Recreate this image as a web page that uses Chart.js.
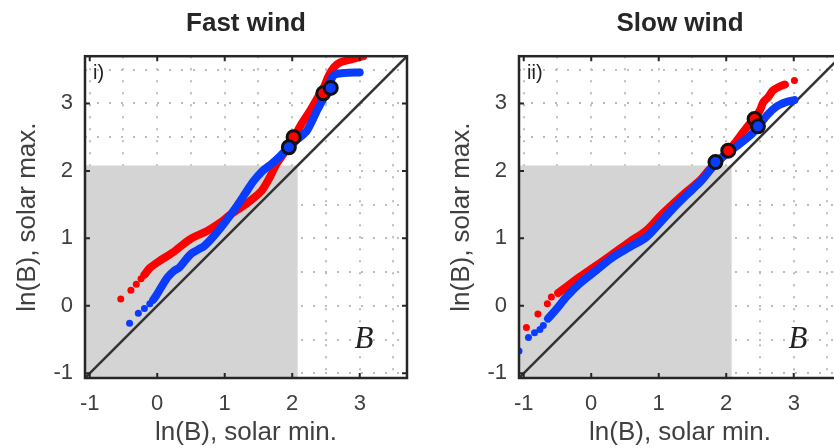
<!DOCTYPE html>
<html>
<head>
<meta charset="utf-8">
<script src="https://cdn.jsdelivr.net/npm/chart.js@4.4.1/dist/chart.umd.min.js"></script>
<style>
  html, body { margin: 0; padding: 0; background: #fff; }
  #wrap { position: relative; width: 834px; height: 448px; overflow: hidden; }
  canvas { position: absolute; top: 0; }
  #fast { left: 0; }
  #slow { left: 434px; }
</style>
</head>
<body>
<div id="wrap">
  <canvas id="fast" width="434" height="448"></canvas>
  <canvas id="slow" width="434" height="448"></canvas>
</div>
<script>
// ===============================
// DATA (ln B, solar min vs solar max)
// ===============================
const axisMin = -1.07, axisMax = 3.7;
const gridVals = [-1, -0.5, 0, 0.5, 1, 1.5, 2, 2.5, 3, 3.5];
const tickVals = [-1, 0, 1, 2, 3];
const shadeMax = 2.08;

// Fast wind
const fastRedTailX = [-0.54, -0.39, -0.31, -0.24];
const fastRedTailY = [0.10, 0.23, 0.32, 0.40];
const fastRedX = [-0.19, -0.11, 0.04, 0.23, 0.49, 0.74, 0.93, 1.08, 1.20, 1.38, 1.55, 1.67, 1.77, 1.87, 2.00, 2.14, 2.27, 2.38, 2.46, 2.54, 2.62, 2.71, 2.86, 3.05];
const fastRedY = [0.46, 0.56, 0.67, 0.79, 0.99, 1.11, 1.23, 1.35, 1.43, 1.56, 1.71, 1.91, 2.11, 2.25, 2.45, 2.70, 2.90, 3.09, 3.22, 3.41, 3.54, 3.61, 3.65, 3.70];
const fastBlueTailX = [-0.41, -0.28, -0.19, -0.11];
const fastBlueTailY = [-0.26, -0.11, -0.04, 0.03];
const fastBlueX = [-0.06, -0.01, 0.08, 0.16, 0.25, 0.33, 0.42, 0.50, 0.60, 0.70, 0.80, 0.92, 1.05, 1.18, 1.30, 1.42, 1.55, 1.70, 1.82, 1.95, 2.08, 2.22, 2.37, 2.47, 2.61, 2.76, 3.00];
const fastBlueY = [0.09, 0.16, 0.31, 0.43, 0.52, 0.57, 0.68, 0.77, 0.83, 0.89, 0.99, 1.13, 1.30, 1.48, 1.66, 1.84, 1.99, 2.11, 2.22, 2.35, 2.47, 2.60, 2.90, 3.09, 3.41, 3.45, 3.46];
const fastRedMarkX = [2.02, 2.46];
const fastRedMarkY = [2.50, 3.15];
const fastBlueMarkX = [1.95, 2.57];
const fastBlueMarkY = [2.35, 3.23];

// Slow wind
const slowRedTailX = [-0.96, -0.79, -0.65, -0.59, 3.01];
const slowRedTailY = [-0.32, -0.12, 0.03, 0.13, 3.34];
const slowRedX = [-0.49, -0.37, -0.17, 0.08, 0.32, 0.57, 0.82, 1.01, 1.21, 1.41, 1.61, 1.76, 1.90, 2.03, 2.15, 2.27, 2.35, 2.42, 2.50, 2.55, 2.62, 2.69, 2.77, 2.87];
const slowRedY = [0.19, 0.28, 0.43, 0.60, 0.77, 0.95, 1.12, 1.32, 1.51, 1.69, 1.86, 2.03, 2.16, 2.30, 2.44, 2.60, 2.70, 2.77, 2.90, 3.02, 3.09, 3.19, 3.24, 3.28];
const slowBlueTailX = [-1.07, -0.93, -0.84, -0.76, -0.71];
const slowBlueTailY = [-0.67, -0.47, -0.40, -0.35, -0.29];
const slowBlueX = [-0.64, -0.50, -0.37, -0.17, 0.08, 0.32, 0.57, 0.82, 1.01, 1.21, 1.41, 1.61, 1.76, 1.84, 2.00, 2.20, 2.40, 2.60, 2.74, 2.89, 3.01];
const slowBlueY = [-0.19, -0.03, 0.13, 0.33, 0.53, 0.72, 0.87, 1.02, 1.22, 1.44, 1.64, 1.83, 2.01, 2.11, 2.25, 2.40, 2.57, 2.82, 2.95, 3.02, 3.05];
const slowRedMarkX = [2.03, 2.42];
const slowRedMarkY = [2.30, 2.77];
const slowBlueMarkX = [1.84, 2.47];
const slowBlueMarkY = [2.13, 2.66];

const RED = '#ff0000';
const BLUE = '#0a3cff';
const FONT = '"Liberation Sans", Arial, Helvetica, sans-serif';

function pairs(xs, ys) {
  return xs.map((x, i) => ({ x: x, y: ys[i] }));
}

// ===============================
// PLUGINS
// ===============================
// gray patch below ln(8), drawn over the grid
const shadePlugin = {
  id: 'shade',
  beforeDatasetsDraw(chart) {
    const { ctx, scales: { x, y } } = chart;
    const x0 = x.getPixelForValue(axisMin), x1 = x.getPixelForValue(shadeMax);
    const y0 = y.getPixelForValue(axisMin), y1 = y.getPixelForValue(shadeMax);
    ctx.save();
    ctx.fillStyle = '#d4d4d4';
    ctx.fillRect(x0, y1, x1 - x0, y0 - y1);
    ctx.restore();
  }
};

// box, inward ticks, panel tag and B
const framePlugin = {
  id: 'frame',
  afterDatasetsDraw(chart, args, opts) {
    const { ctx, chartArea: a, scales: { x, y } } = chart;
    ctx.save();
    ctx.strokeStyle = '#262626';
    ctx.lineWidth = 2;
    ctx.beginPath();
    tickVals.forEach(v => {
      const px = x.getPixelForValue(v), py = y.getPixelForValue(v);
      ctx.moveTo(px, a.bottom); ctx.lineTo(px, a.bottom - 5);
      ctx.moveTo(px, a.top); ctx.lineTo(px, a.top + 5);
      ctx.moveTo(a.left, py); ctx.lineTo(a.left + 5, py);
      ctx.moveTo(a.right, py); ctx.lineTo(a.right - 5, py);
    });
    ctx.stroke();
    ctx.lineWidth = 2.5;
    ctx.strokeRect(a.left, a.top, a.right - a.left, a.bottom - a.top);

    ctx.fillStyle = '#222';
    ctx.textBaseline = 'middle';
    ctx.font = '20px ' + FONT;
    ctx.fillText(opts.tag, a.left + 8, a.top + 17);
    ctx.font = 'italic 31px "Liberation Serif", "DejaVu Serif", serif';
    ctx.textAlign = 'center';
    ctx.fillText('B', a.right - 43, a.bottom - 38);
    ctx.restore();
  }
};

// ===============================
// CHART FACTORY
// ===============================
function axis(label, isX) {
  return {
    type: 'linear',
    min: axisMin,
    max: axisMax,
    afterBuildTicks: s => { s.ticks = gridVals.map(v => ({ value: v })); },
    afterFit: s => { if (isX) s.height = 70; else s.width = 85; },
    grid: { color: '#bdbdbd', lineWidth: 2, drawTicks: false },
    border: { display: false, dash: [2, 10] },
    ticks: {
      padding: isX ? 13 : 12,
      color: '#404040',
      autoSkip: false,
      maxRotation: 0,
      font: { size: 22, family: FONT },
      callback: v => tickVals.includes(v) ? String(v) : ''
    },
    title: {
      display: true,
      text: label,
      color: '#404040',
      font: { size: 26, family: FONT },
      padding: isX ? { top: 0, bottom: 0 } : { top: 12, bottom: 0 }
    }
  };
}

function makeChart(id, title, tag, d) {
  new Chart(document.getElementById(id), {
    type: 'scatter',
    data: {
      datasets: [
        { data: d.blueMarks, backgroundColor: BLUE, borderColor: '#111', pointRadius: 6.5, pointBorderWidth: 3 },
        { data: d.redMarks, backgroundColor: RED, borderColor: '#111', pointRadius: 6.5, pointBorderWidth: 3 },
        { data: d.blueLine, showLine: true, borderColor: BLUE, borderWidth: 8, pointRadius: 0, tension: 0.3,
          borderCapStyle: 'round', borderJoinStyle: 'round' },
        { data: d.blueTail, backgroundColor: BLUE, borderWidth: 0, pointRadius: 3.5 },
        { data: d.redLine, showLine: true, borderColor: RED, borderWidth: 8, pointRadius: 0, tension: 0.3,
          borderCapStyle: 'round', borderJoinStyle: 'round' },
        { data: d.redTail, backgroundColor: RED, borderWidth: 0, pointRadius: 3.5 },
        { data: [{ x: axisMin, y: axisMin }, { x: axisMax, y: axisMax }], showLine: true,
          borderColor: '#333', borderWidth: 2.5, pointRadius: 0 }
      ]
    },
    options: {
      responsive: false,
      animation: false,
      devicePixelRatio: 1,
      layout: { padding: { right: 27 } },
      scales: {
        x: axis('ln(B), solar min.', true),
        y: axis('ln(B), solar max.', false)
      },
      plugins: {
        legend: { display: false },
        tooltip: { enabled: false },
        title: {
          display: true,
          text: title,
          fullSize: false,
          color: '#262626',
          font: { size: 26, weight: 'bold', family: FONT },
          padding: { top: 8, bottom: 17 }
        },
        frame: { tag: tag }
      }
    },
    plugins: [shadePlugin, framePlugin]
  });
}

makeChart('fast', 'Fast wind', 'i)', {
  redTail: pairs(fastRedTailX, fastRedTailY),
  redLine: pairs(fastRedX, fastRedY),
  blueTail: pairs(fastBlueTailX, fastBlueTailY),
  blueLine: pairs(fastBlueX, fastBlueY),
  redMarks: pairs(fastRedMarkX, fastRedMarkY),
  blueMarks: pairs(fastBlueMarkX, fastBlueMarkY)
});

makeChart('slow', 'Slow wind', 'ii)', {
  redTail: pairs(slowRedTailX, slowRedTailY),
  redLine: pairs(slowRedX, slowRedY),
  blueTail: pairs(slowBlueTailX, slowBlueTailY),
  blueLine: pairs(slowBlueX, slowBlueY),
  redMarks: pairs(slowRedMarkX, slowRedMarkY),
  blueMarks: pairs(slowBlueMarkX, slowBlueMarkY)
});
</script>
</body>
</html>
